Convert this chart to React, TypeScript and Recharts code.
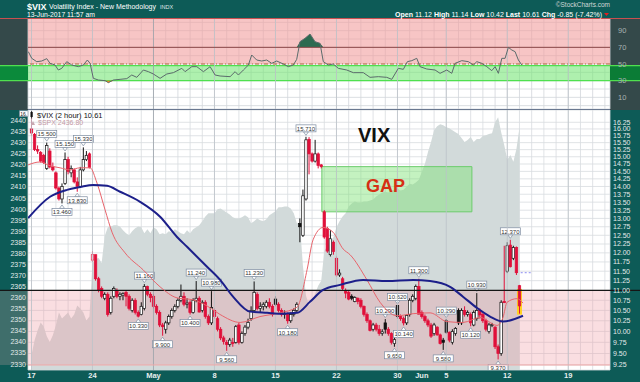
import React from "react";
import {
  ComposedChart, Bar, Line, Area, XAxis, YAxis, CartesianGrid, ReferenceArea, ReferenceLine,
} from "recharts";

if (typeof document !== "undefined") document.body.style.margin = "0";

const FONT = "'Liberation Sans', Arial, sans-serif";
const TEAL = "#0d5b57";
const SLATE = "#34494a";
const RED = "#e0103a";

// time axis: trading days counted from Mon 17 Apr 2017, four 2-hour bars per day
const labelDays = [0, 5, 10, 15, 20, 25, 30, 32, 34, 39, 44];
const labelText = ["17", "24", "May", "8", "15", "22", "30", "Jun", "5", "12", "19"];
const weekDays = [0, 5, 10, 15, 20, 25, 30, 34, 39, 44];
const monthDays = [10, 32];
const dayTicks = Array.from({ length: 48 }, (_, i) => i);
const X_DOMAIN: [number, number] = [-0.287, 47.42];

// $VIX 2-hour candles
const vixOpen = [
  16.0, 15.8, 15.25, 15.15, 15.05, 14.6, 15.2, 14.65, 14.45, 13.95, 13.6, 14.1, 14.9, 14.45, 14.55, 14.15,
  14.0, 14.55, 14.9, 15.1, 11.8, 11.95, 11.3, 11.05, 10.8, 10.9, 10.45, 10.85, 11.0, 10.85, 10.88, 10.95,
  10.85, 10.5, 10.75, 10.45, 10.4, 10.55, 11.1, 10.9, 10.85, 10.6, 10.45, 10.15, 10.05, 10.2, 10.35, 10.5,
  10.6, 10.75, 10.85, 10.65, 10.7, 10.45, 10.75, 10.8, 10.5, 10.7, 10.35, 10.2, 10.5, 10.3, 10.05, 9.85,
  9.75, 9.7, 9.75, 9.75, 10.15, 9.75, 9.95, 10.1, 10.3, 10.5, 10.9, 10.55, 10.6, 10.6, 10.7, 10.6,
  10.78, 10.65, 10.5, 10.4, 10.4, 10.25, 10.4, 10.5, 12.85, 12.5, 13.6, 15.62, 15.1, 14.85, 15.1, 14.72,
  13.2, 12.7, 11.95, 12.3, 11.85, 11.4, 11.3, 11.0, 10.95, 10.85, 10.72, 10.8, 10.75, 10.6, 10.4, 10.25,
  10.05, 10.15, 10.05, 9.95, 10.2, 10.05, 9.95, 9.72, 10.62, 10.35, 10.3, 10.2, 10.4, 10.75, 10.8, 11.1,
  10.45, 10.35, 10.25, 10.15, 9.95, 10.1, 9.92, 9.8, 10.25, 9.98, 9.75, 9.95, 10.5, 10.2, 10.5, 10.4,
  10.4, 10.15, 10.3, 10.5, 10.4, 10.25, 10.0, 10.15, 10.1, 9.65, 9.5, 10.72, 11.5, 12.22, 11.85, 12.15,
  11.12,
];
const vixHigh = [
  16.55, 15.85, 15.4, 15.2, 15.1, 15.5, 15.3, 14.8, 14.5, 14.0, 14.1, 15.15, 15.0, 14.7, 14.6, 14.3,
  14.65, 15.33, 15.2, 15.15, 12.05, 11.95, 11.35, 11.1, 10.95, 10.95, 10.85, 11.1, 11.05, 10.95, 10.95, 11.0,
  10.9, 10.8, 10.8, 10.5, 10.7, 11.16, 11.12, 10.95, 10.9, 10.65, 10.5, 10.2, 10.25, 10.4, 10.55, 10.65,
  10.8, 11.15, 10.95, 10.8, 10.75, 10.8, 11.24, 10.85, 10.75, 10.75, 10.4, 10.98, 10.55, 10.35, 10.1, 9.9,
  9.8, 9.85, 9.85, 10.15, 10.2, 10.0, 10.15, 10.3, 10.6, 11.23, 10.95, 10.7, 10.7, 10.75, 10.8, 10.65,
  10.85, 10.7, 10.55, 10.5, 10.45, 10.45, 10.55, 10.7, 13.0, 13.9, 15.71, 15.7, 15.15, 15.6, 15.15, 14.75,
  13.25, 12.75, 12.65, 12.35, 11.9, 11.55, 11.35, 11.05, 11.0, 10.9, 10.85, 10.82, 10.8, 10.62, 10.45, 10.28,
  10.2, 10.2, 10.15, 10.05, 10.29, 10.1, 9.98, 9.85, 10.62, 10.4, 10.35, 10.4, 10.8, 10.9, 11.15, 11.3,
  10.5, 10.4, 10.3, 10.2, 10.2, 10.12, 9.95, 9.85, 10.29, 10.0, 10.05, 10.1, 10.55, 10.55, 10.6, 10.5,
  10.45, 10.5, 10.93, 10.55, 10.45, 10.3, 10.2, 10.2, 10.12, 9.7, 10.75, 12.2, 12.3, 12.37, 12.2, 12.18,
  11.14,
];
const vixLow = [
  15.75, 15.2, 15.1, 14.8, 14.75, 14.55, 14.6, 14.5, 13.9, 13.55, 13.46, 14.05, 14.4, 14.3, 14.1, 13.83,
  13.95, 14.5, 14.85, 14.6, 11.75, 11.25, 10.95, 10.8, 10.75, 10.35, 10.4, 10.8, 10.8, 10.75, 10.75, 10.6,
  10.5, 10.45, 10.4, 10.33, 10.38, 10.5, 10.85, 10.7, 10.55, 10.4, 10.1, 9.9, 9.95, 10.15, 10.3, 10.45,
  10.55, 10.7, 10.6, 10.55, 10.4, 10.42, 10.7, 10.45, 10.45, 10.3, 10.15, 10.15, 10.3, 10.0, 9.8, 9.7,
  9.56, 9.65, 9.65, 9.72, 9.7, 9.72, 9.9, 10.05, 10.25, 10.45, 10.5, 10.45, 10.5, 10.55, 10.55, 10.35,
  10.6, 10.45, 10.35, 10.3, 10.18, 10.2, 10.35, 10.45, 12.3, 12.45, 13.55, 14.4, 14.8, 14.8, 14.6, 14.6,
  12.4, 12.0, 11.9, 11.95, 11.35, 11.35, 11.0, 10.8, 10.75, 10.75, 10.7, 10.65, 10.55, 10.35, 10.2, 10.0,
  10.0, 10.0, 9.9, 9.9, 9.95, 9.9, 9.7, 9.65, 10.3, 10.25, 10.14, 10.15, 10.35, 10.7, 10.75, 10.4,
  10.3, 10.2, 10.1, 9.85, 9.9, 9.9, 9.7, 9.58, 9.95, 9.75, 9.7, 9.9, 10.15, 10.15, 10.35, 10.35,
  10.12, 10.12, 10.25, 10.3, 10.2, 10.0, 9.95, 10.1, 9.6, 9.37, 9.45, 10.68, 11.45, 11.6, 11.8, 11.4,
  10.42,
];
const vixClose = [
  15.85, 15.25, 15.2, 14.85, 14.8, 15.4, 14.65, 14.55, 13.95, 13.6, 14.0, 14.9, 14.5, 14.6, 14.15, 14.0,
  14.55, 14.9, 15.05, 14.63, 11.95, 11.3, 11.0, 10.85, 10.9, 10.4, 10.8, 11.05, 10.85, 10.9, 10.92, 10.85,
  10.55, 10.75, 10.45, 10.36, 10.6, 11.1, 10.9, 10.82, 10.6, 10.45, 10.15, 10.11, 10.2, 10.35, 10.5, 10.59,
  10.75, 10.85, 10.65, 10.68, 10.45, 10.75, 10.8, 10.46, 10.7, 10.35, 10.2, 10.57, 10.35, 10.05, 9.85, 9.77,
  9.7, 9.8, 9.72, 10.11, 9.75, 9.95, 10.1, 10.21, 10.5, 10.95, 10.55, 10.6, 10.65, 10.7, 10.6, 10.4,
  10.65, 10.5, 10.4, 10.42, 10.25, 10.4, 10.5, 10.65, 12.75, 13.7, 15.6, 15.1, 14.85, 15.1, 14.7, 14.66,
  12.45, 12.05, 12.4, 12.04, 11.4, 11.45, 11.05, 10.93, 10.78, 10.8, 10.82, 10.72, 10.6, 10.4, 10.25, 10.02,
  10.15, 10.05, 9.95, 9.99, 10.05, 9.95, 9.75, 9.81, 10.35, 10.3, 10.2, 10.38, 10.75, 10.85, 11.1, 10.41,
  10.35, 10.25, 10.15, 9.89, 10.15, 9.92, 9.72, 9.75, 9.98, 9.8, 10.0, 10.07, 10.2, 10.5, 10.4, 10.45,
  10.2, 10.45, 10.5, 10.39, 10.25, 10.05, 10.15, 10.16, 9.65, 9.5, 10.7, 10.69, 12.2, 11.62, 12.15, 11.46,
  10.61,
];
// $SPX at the same bars (gray area, left scale)
const spxClose = [
  2334.0, 2340.7, 2345.2, 2348.8, 2347.0, 2342.5, 2339.9, 2343.0, 2347.5, 2353.3, 2350.6, 2351.9,
  2353.3, 2350.6, 2352.4, 2356.4, 2355.1, 2353.3, 2349.7, 2351.5, 2375.7, 2377.5, 2377.9, 2375.7,
  2387.8, 2391.8, 2392.2, 2392.7, 2392.7, 2392.2, 2390.5, 2389.1, 2388.2, 2390.0, 2391.4, 2392.2,
  2391.8, 2389.1, 2390.9, 2389.1, 2391.8, 2390.9, 2388.7, 2389.1, 2388.7, 2390.0, 2389.5, 2390.9,
  2390.0, 2389.1, 2388.7, 2390.5, 2389.1, 2390.9, 2391.8, 2392.7, 2394.5, 2396.7, 2398.1, 2398.1,
  2398.1, 2399.9, 2400.3, 2399.4, 2398.5, 2397.6, 2396.3, 2395.8, 2395.8, 2396.3, 2397.2, 2396.3,
  2393.6, 2394.5, 2395.8, 2395.0, 2394.5, 2395.4, 2397.2, 2398.1, 2399.0, 2400.8, 2400.8, 2401.2,
  2401.2, 2400.3, 2398.1, 2393.6, 2393.6, 2374.3, 2360.9, 2356.4, 2358.7, 2361.8, 2365.4, 2367.6,
  2381.1, 2383.3, 2385.5, 2387.3, 2391.8, 2394.5, 2396.7, 2398.1, 2401.2, 2402.5, 2403.4, 2403.0,
  2403.0, 2403.4, 2403.4, 2403.9, 2404.3, 2405.7, 2406.6, 2407.5, 2407.9, 2407.5, 2408.4, 2408.8,
  2409.3, 2408.4, 2408.8, 2410.2, 2411.5, 2411.1, 2412.0, 2413.3, 2416.9, 2420.5, 2425.8, 2430.3,
  2435.7, 2437.5, 2438.4, 2437.9, 2437.0, 2436.6, 2435.7, 2434.8, 2433.9, 2432.1, 2430.3, 2431.2,
  2432.6, 2430.3, 2431.7, 2431.7, 2433.0, 2433.4, 2433.9, 2434.3, 2439.3, 2441.5, 2434.8, 2429.0,
  2422.3, 2424.5, 2421.4, 2427.2, 2436.8,
];
// bars that carry a high / low value flag
const highMarks = [5, 11, 17, 37, 54, 59, 73, 90, 116, 120, 127, 136, 146, 157];
const lowMarks = [10, 15, 35, 43, 52, 64, 84, 119, 122, 135, 144, 153];

// moving averages (day position, value)
const redMaT = [-0.28, 0.7, 1.52, 2.34, 3.16, 3.98, 4.8, 5.37, 6.03, 6.6, 7.67, 9.14, 10.54, 11.93, 13.24, 14.39, 15.46, 17.1, 18.73, 20.37,
  21.77, 22.59, 23.08, 23.9, 24.72, 25.54, 26.11, 27.5, 28.57, 29.96, 31.28, 32.67, 34.06, 35.37, 36.77, 38.16, 38.65, 38.98, 39.8, 40.29];
const redMaV = [14.72, 14.82, 14.69, 14.62, 14.55, 14.62, 14.62, 14.11, 13.26, 12.59, 12.0, 11.54, 11.09, 10.81, 10.76, 10.61, 10.4, 10.21, 10.35, 10.44,
  10.58, 11.54, 12.37, 12.73, 12.59, 12.11, 11.95, 11.27, 10.7, 10.37, 10.42, 10.44, 10.23, 10.21, 10.33, 10.14, 10.33, 10.7, 10.79, 10.68];
const blueMaT = [-0.28, 1.52, 2.91, 3.98, 5.05, 6.19, 7.26, 8.9, 10.54, 11.93, 12.75, 14.39, 15.46, 16.52, 17.91, 19.31, 20.62, 21.77, 22.83, 23.9,
  25.29, 27.18, 29.14, 31.28, 32.67, 34.31, 35.37, 36.52, 37.59, 38.65, 40.29];
const blueMaV = [13.01, 13.67, 13.89, 13.98, 14.05, 14.02, 13.83, 13.51, 13.05, 12.45, 12.17, 11.62, 11.27, 10.84, 10.47, 10.44, 10.42, 10.44, 10.71, 11.01,
  11.14, 11.27, 11.24, 11.27, 11.24, 11.09, 10.84, 10.56, 10.35, 10.23, 10.37];

// RSI panel
const rsiT = [-0.26, 0.02, 0.43, 0.84, 1.25, 1.52, 1.93, 2.2, 2.48, 2.89, 3.3, 3.84, 4.25, 4.58, 4.8, 5.07, 5.48, 6.03, 6.3, 6.71,
  7.26, 7.81, 8.22, 8.63, 9.17, 9.58, 9.99, 10.54, 11.09, 11.63, 12.32, 12.59, 13.14, 13.55, 14.09, 14.64, 15.05, 15.46, 16.28, 16.69,
  16.96, 17.37, 17.78, 18.05, 18.46, 18.87, 19.28, 19.69, 20.1, 20.64, 21.05, 21.46, 21.74, 22.01, 22.42, 22.83, 23.24, 23.65, 23.92, 24.33,
  24.74, 25.15, 25.84, 26.38, 27.2, 27.75, 28.43, 29.12, 29.53, 30.07, 30.48, 30.81, 31.17, 31.58, 31.85, 32.4, 33.08, 33.49, 34.04, 34.45,
  34.72, 35.27, 35.81, 36.22, 36.5, 36.91, 37.32, 37.73, 38.0, 38.27, 38.55, 38.82, 39.09, 39.37, 39.64, 39.91, 40.19];
const rsiV = [64.8, 56.8, 52.8, 53.6, 56.4, 50.8, 48.8, 42.8, 44.8, 52.8, 48.8, 46.8, 48.8, 54.8, 50.8, 32.8, 30.8, 30.0, 27.6, 30.8,
  31.6, 32.4, 36.8, 34.0, 42.8, 40.8, 38.0, 32.8, 38.0, 39.6, 44.8, 40.8, 46.8, 46.8, 40.8, 46.8, 36.8, 35.6, 34.8, 40.8,
  36.8, 42.8, 48.8, 60.8, 54.8, 53.6, 54.8, 50.8, 53.6, 50.0, 46.8, 48.8, 55.6, 76.8, 80.8, 86.0, 76.8, 74.8, 52.8, 48.8,
  50.0, 44.8, 42.8, 39.6, 39.6, 34.0, 34.8, 34.0, 31.6, 44.8, 43.6, 52.8, 54.0, 56.8, 46.8, 44.0, 42.8, 38.8, 42.8, 38.8,
  50.8, 54.0, 52.8, 48.8, 52.8, 50.8, 46.8, 42.0, 46.8, 38.8, 56.8, 56.8, 70.0, 66.8, 64.8, 54.8, 48.8];

// annotations
const gapFrom = 23.8;
const gapTo = 36.1;
const vixTicks = Array.from({ length: 29 }, (_, i) => 9.25 + i * 0.25);
const spxTicks = Array.from({ length: 23 }, (_, i) => 2330 + i * 5);
const rsiTicks = [0, 10, 20, 30, 40, 50, 60, 70, 80, 90, 100];

const last = vixClose.length - 1;
const rows = vixOpen.map((o, i) => ({
  i,
  t: Math.floor(i / 4) + (i % 4) * 0.25,
  o,
  h: vixHigh[i],
  l: vixLow[i],
  c: vixClose[i],
  pc: i > 0 ? vixClose[i - 1] : o,
  range: [vixLow[i], vixHigh[i]],
  spx: spxClose[i],
}));
const redRows = redMaT.map((t, i) => ({ t, v: redMaV[i] }));
const blueRows = blueMaT.map((t, i) => ({ t, v: blueMaV[i] }));
const rsiRows = rsiT.map((t, i) => ({
  t,
  v: rsiV[i],
  up: [70, Math.max(70, rsiV[i])],
  dn: [Math.min(30, rsiV[i]), 30],
}));

const highSet = new Set(highMarks);
const lowSet = new Set(lowMarks);

function Flag({ cx, y, text, below }: { cx: number; y: number; text: string; below: boolean }) {
  const bw = 20, bh = 7;
  const by = below ? y + 5 : y - 5 - bh;
  const tip = below ? `M${cx - 2.5},${by} L${cx + 2.5},${by} L${cx},${y + 1.5} Z` : `M${cx - 2.5},${by + bh} L${cx + 2.5},${by + bh} L${cx},${y - 1.5} Z`;
  return (
    <g>
      <path d={tip} fill="#fff" stroke="#7d8ca0" strokeWidth={0.7} />
      <rect x={cx - bw / 2} y={by} width={bw} height={bh} fill="#fff" stroke="#7d8ca0" strokeWidth={0.7} />
      <text x={cx} y={by + 5.8} textAnchor="middle" fontSize={6} fill="#333" fontFamily={FONT}>{text}</text>
    </g>
  );
}

function Candle(props: any) {
  const { x, y, width, height, payload } = props;
  if (!payload || x == null || y == null) return <g />;
  const { o, h, l, c, pc, i } = payload;
  const cx = x + width / 2;
  const top = Math.min(y, y + height);
  const bot = Math.max(y, y + height);
  const span = Math.log(h) - Math.log(l);
  const py = (v: number) => (span > 0 ? top + ((Math.log(h) - Math.log(v)) / span) * (bot - top) : top);
  const hollow = c >= o;
  const color = c >= pc ? "#111" : RED;
  const bTop = py(Math.max(o, c));
  const bBot = py(Math.min(o, c));
  const bw = 2.5;
  return (
    <g>
      {i === last && <rect x={cx - 2.5} y={top + 4} width={5} height={bot - top - 3} fill="#ffd21f" />}
      <line x1={cx} x2={cx} y1={top} y2={bot} stroke={color} strokeWidth={1} />
      <rect x={cx - bw / 2} y={bTop} width={bw} height={Math.max(bBot - bTop, 0.8)} fill={hollow ? "#fff" : color} stroke={color} strokeWidth={0.7} />
      {highSet.has(i) && <Flag cx={cx} y={top} text={h.toFixed(3)} below={false} />}
      {lowSet.has(i) && <Flag cx={cx} y={bot} text={l.toFixed(3)} below={true} />}
    </g>
  );
}

function DayTick(props: any) {
  const { x, y, payload } = props;
  const k = labelDays.indexOf(payload.value);
  if (k < 0) return <g />;
  return (
    <text x={x} y={y + 8} textAnchor="middle" fill="#e6eeee" fontSize={7.5} fontWeight="bold" fontFamily={FONT}>
      {labelText[k]}
    </text>
  );
}

const pinkZone = (p: any) => (
  <g>
    <rect x={0} y={p.y} width={p.x} height={p.height} fill="#f2b0b8" fillOpacity={0.22} />
    <rect x={p.x} y={p.y} width={p.width} height={p.height} fill="#ee98a2" fillOpacity={0.32} />
  </g>
);

const greenBand = (p: any) => (
  <g>
    <rect x={0} y={p.y} width={p.x} height={p.height} fill="#0b8a3b" />
    <rect x={p.x + p.width} y={p.y} width={640 - p.x - p.width} height={p.height} fill="#0b7c36" />
    <rect x={p.x} y={p.y} width={p.width} height={p.height} fill="#78e678" fillOpacity={0.6} />
    <line x1={0} x2={640} y1={p.y} y2={p.y} stroke="#4fe04f" strokeWidth={1.3} />
    <line x1={0} x2={640} y1={p.y + p.height} y2={p.y + p.height} stroke="#4fe04f" strokeWidth={1.3} />
  </g>
);

const fullLine = (p: any) => <line x1={0} x2={640} y1={p.y1} y2={p.y2} stroke="#151515" strokeWidth={1.4} />;

export default function App() {
  const o = vixOpen[last], h = vixHigh[last], l = vixLow[last], c = vixClose[last];
  const chg = c - vixClose[last - 1];
  const pct = (chg / vixClose[last - 1]) * 100;
  return (
    <div style={{ position: "relative", width: 640, height: 382, background: TEAL, overflow: "hidden", fontFamily: FONT }}>
      <div style={{ position: "absolute", left: 0, top: 18, width: 28, height: 92, background: SLATE }} />
      <div style={{ position: "absolute", left: 610, top: 18, width: 30, height: 92, background: SLATE }} />

      {/* RSI panel */}
      <div style={{ position: "absolute", left: 0, top: 18 }}>
        <ComposedChart width={640} height={91} data={rsiRows} margin={{ top: 0, right: 0, bottom: 0, left: 28 }}>
          <CartesianGrid yAxisId="rsi" stroke="#d2d6da" strokeWidth={0.8} fill="#ffffff" />
          <XAxis type="number" dataKey="t" domain={X_DOMAIN} allowDataOverflow ticks={dayTicks} interval={0} hide />
          <YAxis yAxisId="rsi" orientation="right" width={30} domain={[-4, 105.2]} allowDataOverflow ticks={rsiTicks} interval={0}
            tickFormatter={(v: number) => (v % 20 === 10 ? String(v) : "")}
            tick={{ fontSize: 7.5, fill: "#a9b3b3", fontFamily: FONT }} tickLine={false} axisLine={false} tickSize={0} tickMargin={8} />
          <ReferenceArea yAxisId="rsi" y1={50} y2={105.2} fill="#f29e9e" fillOpacity={0.6} stroke="none" ifOverflow="hidden" />
          <ReferenceArea yAxisId="rsi" y1={30} y2={48} shape={greenBand} ifOverflow="visible" />
          {weekDays.map((d) => (
            <ReferenceLine key={"rw" + d} yAxisId="rsi" x={d} stroke={monthDays.includes(d) ? "#9aa2aa" : "#bcc3c9"} strokeWidth={0.8} />
          ))}
          <ReferenceLine yAxisId="rsi" y={70} stroke="#8a4848" strokeWidth={1} />
          <ReferenceLine yAxisId="rsi" y={50} stroke="#b0683a" strokeWidth={1} strokeDasharray="4 2 1 2" />
          <Area yAxisId="rsi" dataKey="up" type="linear" fill="#2d6a50" fillOpacity={1} stroke="none" isAnimationActive={false} />
          <Area yAxisId="rsi" dataKey="dn" type="linear" fill="#f08c1e" fillOpacity={1} stroke="none" isAnimationActive={false} />
          <Line yAxisId="rsi" dataKey="v" type="linear" stroke="#5b6b6b" strokeWidth={1} dot={false} isAnimationActive={false} />
        </ComposedChart>
      </div>

      {/* main price panel */}
      <div style={{ position: "absolute", left: 0, top: 110 }}>
        <ComposedChart width={640} height={272} data={rows} margin={{ top: 0, right: 0, bottom: 0, left: 0 }}>
          <CartesianGrid yAxisId="vix" stroke="#d8dcdf" strokeWidth={0.8} fill="#ffffff" />
          <XAxis type="number" dataKey="t" domain={X_DOMAIN} allowDataOverflow ticks={dayTicks} interval={0} height={12}
            tick={<DayTick />} tickLine={false} axisLine={false} tickSize={0} tickMargin={0} />
          <YAxis yAxisId="spx" orientation="left" width={28} domain={[2327.3, 2444.8]} allowDataOverflow ticks={spxTicks} interval={0}
            tick={{ fontSize: 7, fill: "#e2eaea", fontFamily: FONT }} tickLine={false} axisLine={false} tickSize={0} tickMargin={2} />
          <YAxis yAxisId="vix" orientation="right" width={30} scale="log" domain={[9.143, 16.72]} allowDataOverflow ticks={vixTicks} interval={0}
            tickFormatter={(v: number) => v.toFixed(2)}
            tick={{ fontSize: 7, fill: "#e2eaea", fontFamily: FONT }} tickLine={false} axisLine={false} tickSize={0} tickMargin={3} />
          {weekDays.map((d) => (
            <ReferenceLine key={"w" + d} yAxisId="vix" x={d} stroke={monthDays.includes(d) ? "#9aa2aa" : "#bcc3c9"} strokeWidth={0.8} />
          ))}
          <Area yAxisId="spx" dataKey="spx" type="linear" fill="#d2dada" fillOpacity={1} stroke="none" isAnimationActive={false} />
          <ReferenceArea yAxisId="vix" y1={9.25} y2={11} shape={pinkZone} ifOverflow="visible" />
          <ReferenceLine yAxisId="vix" y={9.25} stroke="#f0a8a8" strokeWidth={1} />
          <ReferenceArea yAxisId="vix" x1={gapFrom} x2={gapTo} y1={vixOpen[96]} y2={vixClose[95]} fill="#7ce273" fillOpacity={0.45} stroke="#6ccc6c" strokeWidth={1} />
          <ReferenceLine yAxisId="vix" y={11} shape={fullLine} />
          <ReferenceLine yAxisId="vix" segment={[{ x: rows[last].t + 0.1, y: vixClose[last - 1] }, { x: rows[last].t + 1, y: vixClose[last - 1] }]}
            stroke="#8c8cf0" strokeDasharray="2 2" strokeWidth={1} />
          <Line data={redRows} yAxisId="vix" dataKey="v" type="monotone" stroke="#e8646c" strokeWidth={1} dot={false} isAnimationActive={false} />
          <Line data={blueRows} yAxisId="vix" dataKey="v" type="monotone" stroke="#1c1f8a" strokeWidth={2} dot={false} isAnimationActive={false} />
          <Bar yAxisId="vix" dataKey="range" barSize={3} shape={(p: any) => <Candle {...p} />} isAnimationActive={false} />
        </ComposedChart>
      </div>

      {/* texts */}
      <svg width={640} height={382} style={{ position: "absolute", left: 0, top: 0, pointerEvents: "none" }} fontFamily={FONT}>
        <line x1={0} x2={640} y1={18.5} y2={18.5} stroke="#c85050" strokeWidth={1} />
        <line x1={28} x2={610} y1={109.5} y2={109.5} stroke="#6a7890" strokeWidth={1.2} />
        <text x={27} y={9.5} fill="#fff" fontSize={9} fontWeight="bold">$VIX</text>
        <text x={49} y={9} fill="#fff" fontSize={7}>Volatility Index - New Methodology</text>
        <text x={160} y={9} fill="#dfe6e6" fontSize={5.5}>INDX</text>
        <text x={27} y={17} fill="#fff" fontSize={6.8}>13-Jun-2017 11:57 am</text>
        <text x={610} y={7} textAnchor="end" fill="#cfd8d8" fontSize={6.5}>©StockCharts.com</text>
        <text x={602} y={16.5} textAnchor="end" fill="#fff" fontSize={7}>
          <tspan fontWeight="bold">Open</tspan> {o.toFixed(2)} <tspan fontWeight="bold">High</tspan> {h.toFixed(2)}{" "}
          <tspan fontWeight="bold">Low</tspan> {l.toFixed(2)} <tspan fontWeight="bold">Last</tspan> {c.toFixed(2)}{" "}
          <tspan fontWeight="bold">Chg</tspan> {chg.toFixed(2)} ({pct.toFixed(2)}%)
        </text>
        <path d="M604,13 L609,13 L606.5,16 Z" fill="#e02020" />

        <rect x={19.5} y={110.8} width={8.5} height={5.6} fill="#fff" stroke="#7d8ca0" strokeWidth={0.6} />
        <text x={20.3} y={115.6} fontSize={5} fill="#222">16.</text>
        <rect x={30.5} y={112} width={2.2} height={5} fill="#111" />
        <line x1={31.6} x2={31.6} y1={111} y2={118.5} stroke="#111" strokeWidth={0.8} />
        <text x={37} y={118} fontSize={7.5} fill="#111">$VIX (2 hour) {c.toFixed(2)}</text>
        <path d="M31,125 L35,125 L33,121 Z" fill="#c8a8b0" />
        <text x={38} y={125} fontSize={7} fill="#c59aa5">$SPX {spxClose[last].toFixed(2)}</text>

        <text x={358} y={142} fontSize={20} fontWeight="bold" fill="#111">VIX</text>
        <text x={366} y={192} fontSize={18} fontWeight="bold" fill="#d63014">GAP</text>
      </svg>
    </div>
  );
}
